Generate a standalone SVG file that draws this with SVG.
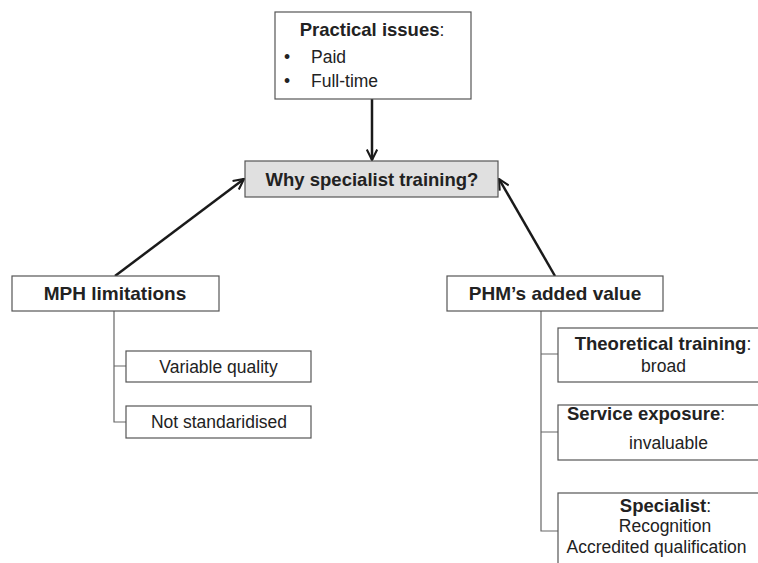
<svg xmlns="http://www.w3.org/2000/svg" width="758" height="563" viewBox="0 0 758 563">
<defs>
<marker id="arr" viewBox="0 0 12 12" refX="11" refY="6" markerWidth="5" markerHeight="5" orient="auto" markerUnits="strokeWidth">
<path d="M1,1 L11,6 L1,11" fill="none" stroke="#1a1a1a" stroke-width="2"/>
</marker>
<style>
.box{fill:#fff;stroke:#555;stroke-width:1.2}
.grey{fill:#e0e0e0;stroke:#555;stroke-width:1.2}
text{font-family:"Liberation Sans",Arial,sans-serif;font-size:17.5px;fill:#222}
.b{font-weight:bold;font-size:18.5px}
.big{font-size:19px}
.m{text-anchor:middle}
.arrow{stroke:#1a1a1a;stroke-width:2.5;fill:none;marker-end:url(#arr)}
.tree{stroke:#666;stroke-width:1.2;fill:none}
</style>
</defs>
<g id="connectors">
<line class="arrow" x1="372" y1="99" x2="372" y2="160"/>
<line class="arrow" x1="115" y1="276" x2="244" y2="179"/>
<line class="arrow" x1="555" y1="276" x2="499" y2="179"/>
<path class="tree" d="M114,311 V422 H126 M114,366 H126"/>
<path class="tree" d="M541,311 V531 H558 M541,354 H558 M541,432 H558"/>
</g>
<g id="practical">
<rect class="box" x="275" y="12" width="196" height="87"/>
<text x="372" y="36" class="m"><tspan class="b">Practical issues</tspan>:</text>
<text x="284" y="63">•</text><text x="311" y="63">Paid</text>
<text x="284" y="87">•</text><text x="311" y="87">Full-time</text>
</g>
<g id="why">
<rect class="grey" x="245" y="161" width="253" height="36"/>
<text x="372" y="186" class="m b">Why specialist training?</text>
</g>
<g id="mph">
<rect class="box" x="12" y="276" width="207" height="35"/>
<text x="115" y="300" class="m b big">MPH limitations</text>
</g>
<g id="variable">
<rect class="box" x="126" y="351" width="185" height="31"/>
<text x="218.5" y="373" class="m">Variable quality</text>
</g>
<g id="notstd">
<rect class="box" x="126" y="406" width="185" height="32"/>
<text x="219" y="428" class="m">Not standaridised</text>
</g>
<g id="phm">
<rect class="box" x="447" y="276" width="216" height="35"/>
<text x="555" y="300" class="m b big">PHM’s added value</text>
</g>
<g id="theoretical">
<rect class="box" x="558" y="328" width="210" height="54"/>
<text x="663" y="350" class="m"><tspan class="b">Theoretical training</tspan>:</text>
<text x="663.5" y="372" class="m">broad</text>
</g>
<g id="service">
<rect class="box" x="558" y="405" width="210" height="55"/>
<text x="567" y="420"><tspan class="b">Service exposure</tspan>:</text>
<text x="668.5" y="449" class="m">invaluable</text>
</g>
<g id="specialist">
<rect class="box" x="558" y="493" width="210" height="80"/>
<text x="665.5" y="512" class="m"><tspan class="b">Specialist</tspan>:</text>
<text x="665" y="532" class="m">Recognition</text>
<text x="656.5" y="553" class="m">Accredited qualification</text>
</g>
</svg>
